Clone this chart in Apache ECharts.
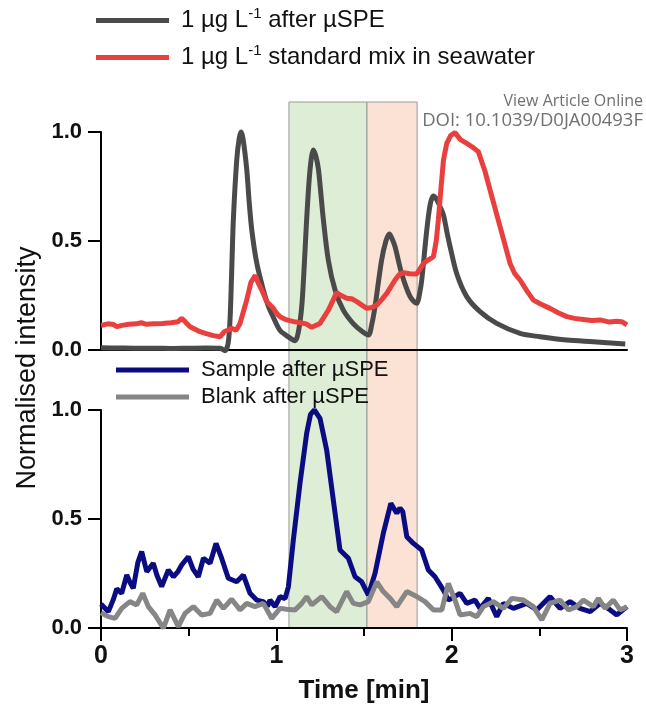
<!DOCTYPE html>
<html>
<head>
<meta charset="utf-8">
<script src="https://cdn.jsdelivr.net/npm/echarts@6/dist/echarts.min.js"></script>
<style>html,body{margin:0;padding:0;background:#fff;}#c{width:646px;height:710px;}</style>
</head>
<body>
<div id="c"></div>
<script>
// ---- data (time in min, normalised intensity) ----
const afterSPE = [[0,0.01],[0.1,0.009],[0.2,0.008],[0.3,0.008],[0.4,0.007],[0.5,0.008],[0.6,0.009],[0.68,0.008],[0.707,-0.003],[0.725,0.03],[0.736,0.14],[0.745,0.35],[0.755,0.6],[0.774,0.87],[0.788,0.97],[0.799,1.0],[0.81,0.97],[0.831,0.83],[0.845,0.68],[0.86,0.55],[0.888,0.4],[0.926,0.275],[0.955,0.2],[0.983,0.15],[1.021,0.09],[1.06,0.065],[1.107,0.043],[1.125,0.08],[1.145,0.2],[1.16,0.4],[1.173,0.6],[1.192,0.826],[1.211,0.917],[1.225,0.89],[1.24,0.83],[1.268,0.6],[1.297,0.41],[1.335,0.275],[1.382,0.183],[1.44,0.12],[1.49,0.085],[1.525,0.069],[1.545,0.12],[1.563,0.2],[1.6,0.41],[1.625,0.5],[1.645,0.532],[1.66,0.51],[1.677,0.474],[1.715,0.35],[1.763,0.245],[1.801,0.214],[1.815,0.25],[1.829,0.32],[1.858,0.55],[1.878,0.67],[1.896,0.706],[1.915,0.69],[1.934,0.657],[1.953,0.62],[1.972,0.545],[1.991,0.474],[2.029,0.35],[2.086,0.245],[2.162,0.176],[2.257,0.122],[2.39,0.076],[2.504,0.061],[2.657,0.046],[2.808,0.038],[2.99,0.028]];
const standardMix = [[0,0.113],[0.013,0.115],[0.04,0.12],[0.07,0.117],[0.09,0.107],[0.12,0.113],[0.16,0.118],[0.2,0.12],[0.23,0.125],[0.26,0.118],[0.3,0.12],[0.35,0.122],[0.4,0.125],[0.44,0.13],[0.46,0.145],[0.48,0.13],[0.508,0.107],[0.565,0.084],[0.6,0.075],[0.641,0.066],[0.68,0.061],[0.705,0.085],[0.726,0.092],[0.745,0.1],[0.77,0.09],[0.793,0.122],[0.81,0.17],[0.831,0.229],[0.855,0.31],[0.88,0.342],[0.895,0.31],[0.917,0.275],[0.945,0.222],[0.983,0.191],[1.002,0.168],[1.021,0.153],[1.059,0.138],[1.1,0.13],[1.135,0.125],[1.17,0.12],[1.202,0.104],[1.249,0.122],[1.297,0.183],[1.344,0.263],[1.37,0.25],[1.401,0.237],[1.43,0.235],[1.459,0.222],[1.49,0.205],[1.516,0.191],[1.545,0.195],[1.573,0.206],[1.6,0.23],[1.63,0.26],[1.677,0.321],[1.7,0.345],[1.725,0.355],[1.76,0.35],[1.801,0.349],[1.839,0.397],[1.87,0.415],[1.896,0.428],[1.912,0.5],[1.924,0.596],[1.94,0.75],[1.953,0.87],[1.972,0.948],[1.995,0.985],[2.019,0.997],[2.05,0.965],[2.086,0.948],[2.12,0.93],[2.152,0.91],[2.19,0.82],[2.219,0.734],[2.276,0.566],[2.333,0.397],[2.36,0.35],[2.39,0.321],[2.43,0.27],[2.466,0.229],[2.51,0.21],[2.561,0.191],[2.61,0.17],[2.657,0.153],[2.7,0.145],[2.751,0.14],[2.8,0.135],[2.847,0.138],[2.9,0.128],[2.94,0.132],[2.97,0.13],[3.0,0.115]];
const sampleSPE = [[0,0.11],[0.004,0.105],[0.042,0.075],[0.07,0.13],[0.09,0.18],[0.118,0.159],[0.147,0.243],[0.165,0.21],[0.184,0.182],[0.21,0.3],[0.232,0.35],[0.261,0.258],[0.298,0.297],[0.32,0.24],[0.346,0.19],[0.384,0.266],[0.413,0.235],[0.44,0.26],[0.46,0.289],[0.498,0.327],[0.525,0.27],[0.555,0.235],[0.584,0.32],[0.622,0.297],[0.656,0.388],[0.688,0.32],[0.726,0.228],[0.774,0.212],[0.812,0.243],[0.85,0.159],[0.888,0.128],[0.926,0.121],[0.95,0.1],[0.964,0.128],[0.993,0.098],[1.021,0.144],[1.05,0.135],[1.069,0.19],[1.097,0.404],[1.135,0.664],[1.173,0.893],[1.195,0.98],[1.217,1.0],[1.249,0.962],[1.287,0.817],[1.325,0.587],[1.363,0.358],[1.411,0.32],[1.449,0.235],[1.487,0.212],[1.525,0.151],[1.563,0.251],[1.61,0.434],[1.653,0.572],[1.687,0.526],[1.705,0.55],[1.721,0.534],[1.744,0.419],[1.782,0.388],[1.829,0.358],[1.867,0.266],[1.905,0.235],[1.953,0.174],[1.981,0.128],[2.0,0.136],[2.048,0.159],[2.086,0.113],[2.133,0.128],[2.162,0.09],[2.209,0.136],[2.257,0.052],[2.295,0.113],[2.352,0.09],[2.428,0.113],[2.485,0.083],[2.561,0.144],[2.618,0.09],[2.675,0.121],[2.732,0.09],[2.79,0.075],[2.847,0.113],[2.904,0.083],[2.942,0.06],[3.0,0.098]];
const blankSPE = [[0,0.07],[0.004,0.067],[0.042,0.052],[0.08,0.044],[0.118,0.09],[0.165,0.121],[0.204,0.106],[0.238,0.159],[0.27,0.098],[0.308,0.06],[0.356,-0.001],[0.394,0.083],[0.441,0.006],[0.479,0.067],[0.527,0.098],[0.574,0.06],[0.622,0.067],[0.66,0.128],[0.698,0.09],[0.745,0.132],[0.793,0.083],[0.831,0.113],[0.878,0.098],[0.926,0.113],[0.974,0.044],[1.021,0.09],[1.059,0.086],[1.107,0.083],[1.145,0.113],[1.173,0.144],[1.202,0.106],[1.259,0.144],[1.306,0.098],[1.344,0.075],[1.401,0.167],[1.439,0.113],[1.478,0.106],[1.525,0.121],[1.573,0.212],[1.61,0.167],[1.649,0.136],[1.687,0.098],[1.744,0.167],[1.801,0.144],[1.848,0.121],[1.896,0.083],[1.944,0.083],[1.981,0.205],[1.991,0.212],[2.019,0.128],[2.048,0.06],[2.105,0.067],[2.143,0.052],[2.181,0.098],[2.238,0.121],[2.295,0.09],[2.343,0.136],[2.409,0.128],[2.466,0.098],[2.514,0.037],[2.561,0.113],[2.618,0.128],[2.666,0.083],[2.713,0.098],[2.751,0.128],[2.808,0.098],[2.837,0.136],[2.875,0.09],[2.922,0.128],[2.961,0.083],[3.0,0.098]];
const regionStart = [1.072, 1.517];
const regionEnd = [1.517, 1.803];
const regionColors = ['#deedd5', '#fbe2d4'];
const xTickLabels = ['0', '1', '2', '3'];
const yTickLabels = ['0.0', '0.5', '1.0'];
const seriesNames = ['1 µg L-1 after µSPE', '1 µg L-1 standard mix in seawater', 'Sample after µSPE', 'Blank after µSPE'];

const FONT = '"Liberation Sans", Arial, sans-serif';
const chart = echarts.init(document.getElementById('c'), null, {renderer: 'canvas'});

function legendFmt(n) { return n.replace('L-1', 'L{sup|-1}'); }
function mkLegend(name, left, top, size) {
  return {
    show: true, data: [name], left: left, top: top, padding: 0, selectedMode: false,
    icon: 'rect', itemWidth: 73, itemHeight: 5,
    formatter: legendFmt,
    textStyle: {
      fontFamily: FONT, fontSize: size, color: '#111', padding: [0, 0, 0, 7],
      rich: { sup: { fontFamily: FONT, fontSize: Math.round(size * 0.62), color: '#111', padding: [0, 0, 14, 0] } }
    }
  };
}
function yAx(grid) {
  return {
    type: 'value', gridIndex: grid, min: 0, max: 1, interval: 0.5, z: 2,
    axisLine: { show: true, lineStyle: { color: '#000', width: 2 } },
    axisTick: { show: true, length: 13, lineStyle: { color: '#000', width: 2 } },
    axisLabel: { fontFamily: FONT, fontWeight: 'bold', fontSize: 22, color: '#111', margin: 19,
      formatter: v => yTickLabels[Math.round(v * 2)] },
    splitLine: { show: false }
  };
}
function lineSeries(name, data, color, width, xi, yi, smooth) {
  return { name: name, type: 'line', data: data, xAxisIndex: xi, yAxisIndex: yi, symbol: 'none', showSymbol: false,
    smooth: smooth, clip: false, z: 3, itemStyle: { color: color }, lineStyle: { color: color, width: width } };
}

const boxes = regionStart.map((s, i) => [
  { xAxis: s, itemStyle: { color: regionColors[i], borderColor: '#9a9a9a', borderWidth: 1 } },
  { xAxis: regionEnd[i] }
]);

chart.setOption({
  animation: false,
  backgroundColor: '#fff',
  grid: [
    { left: 101, right: 19, top: 132, height: 218 },
    { left: 101, right: 19, top: 410, height: 218 },
    { left: 101, right: 19, top: 102, height: 526 }
  ],
  xAxis: [
    { type: 'value', gridIndex: 0, min: 0, max: 3, interval: 1, z: 2,
      axisLine: { show: true, onZero: false, lineStyle: { color: '#000', width: 2 } },
      axisTick: { show: false }, axisLabel: { show: false }, splitLine: { show: false } },
    { type: 'value', gridIndex: 1, min: 0, max: 3, interval: 1, z: 2,
      axisLine: { show: true, onZero: false, lineStyle: { color: '#000', width: 2 } },
      axisTick: { show: true, length: 13, lineStyle: { color: '#000', width: 2 } },
      minorTick: { show: true, splitNumber: 2, length: 8, lineStyle: { color: '#000', width: 2 } },
      axisLabel: { fontFamily: FONT, fontWeight: 'bold', fontSize: 25, color: '#111', margin: 16,
        formatter: v => xTickLabels[Math.round(v)] },
      splitLine: { show: false },
      name: 'Time [min]', nameLocation: 'middle', nameGap: 50,
      nameTextStyle: { fontFamily: FONT, fontWeight: 'bold', fontSize: 26, color: '#111' } },
    { type: 'value', gridIndex: 2, min: 0, max: 3, show: false }
  ],
  yAxis: [yAx(0), yAx(1), { type: 'value', gridIndex: 2, min: 0, max: 1, show: false }],
  legend: [
    mkLegend(seriesNames[0], 96, 6, 24),
    mkLegend(seriesNames[1], 96, 43, 24),
    mkLegend(seriesNames[2], 116, 359, 22),
    mkLegend(seriesNames[3], 116, 386, 22)
  ],
  graphic: [
    { type: 'text', x: 643, y: 101, style: { text: 'View Article Online', font: '16px "Open Sans", sans-serif', fill: '#707070', align: 'right', verticalAlign: 'middle' } },
    { type: 'text', x: 643, y: 121, style: { text: 'DOI: 10.1039/D0JA00493F', font: '18.5px "Open Sans", sans-serif', fill: '#707070', align: 'right', verticalAlign: 'middle' } },
    { type: 'text', x: 28, y: 368, rotation: Math.PI / 2, style: { text: 'Normalised intensity', font: '27px "Liberation Sans", Arial, sans-serif', fill: '#111', align: 'center', verticalAlign: 'middle' } }
  ],
  series: [
    { type: 'line', xAxisIndex: 2, yAxisIndex: 2, data: [[0, 0]], symbol: 'none', lineStyle: { opacity: 0 }, z: 0, silent: true,
      markArea: { silent: true, z: 0, data: boxes } },
    lineSeries(seriesNames[0], afterSPE, '#4a4a4a', 5, 0, 0, 0.3),
    lineSeries(seriesNames[1], standardMix, '#e9403f', 5, 0, 0, false),
    lineSeries(seriesNames[2], sampleSPE, '#0c0c82', 5, 1, 1, false),
    lineSeries(seriesNames[3], blankSPE, '#868686', 5, 1, 1, false)
  ]
});
</script>
</body>
</html>
